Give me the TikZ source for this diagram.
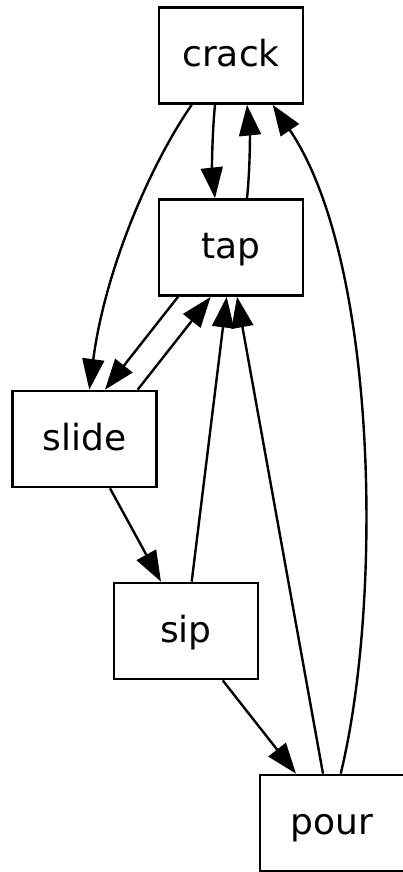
\documentclass[tikz,border=0pt]{standalone}
\usepackage{fontspec}
\setmainfont{DejaVu Sans}
\usetikzlibrary{arrows.meta,calc}
\begin{document}
\begin{tikzpicture}[x=0.375pt,y=-0.375pt,
  box/.style={draw,line width=1pt,minimum width=54pt,minimum height=36pt,inner sep=0pt,
    text height=11.8pt,text depth=3.4pt,font=\fontsize{13.5}{16}\selectfont},
  edge/.style={line width=0.9pt,-{Triangle[length=11.5pt,width=8.2pt]}}]
\useasboundingbox (0,0) rectangle (402,872);
\node[box] (crack) at (231,55.5) {crack};
\node[box] (tap) at (231,247.5) {tap};
\node[box] (slide) at (84.5,439) {slide};
\node[box] (sip) at (186,631) {sip};
\node[box] (pour) at (332,823) {pour};
\draw[edge] ($(crack.south)+(-16,0)$) .. controls (212,135) and (212,170) .. ($(tap.north)+(-16,0)$);
\draw[edge] ($(tap.north)+(16,0)$) .. controls (250,170) and (250,135) .. ($(crack.south)+(16,0)$);
\draw[edge] ($(crack.south)+(-39.3,0)$) .. controls (150,165) and (105,270) .. ($(slide.north)+(4.8,0)$);
\draw[edge] ($(tap.south)+(-53,0)$) -- ($(slide.north)+(20.5,0)$);
\draw[edge] ($(slide.north)+(53.2,0)$) -- ($(tap.south)+(-20.3,0)$);
\draw[edge] ($(sip.north)+(5.7,0)$) -- ($(tap.south)+(-4.3,0)$);
\draw[edge] ($(pour.north)+(-9,0)$) -- ($(tap.south)+(6,0)$);
\draw[edge] ($(pour.north)+(8.7,0)$) .. controls (383,600) and (378,260) .. ($(crack.south)+(41.7,0)$);
\draw[edge] ($(slide.south)+(25.5,0)$) -- ($(sip.north)+(-25,0)$);
\draw[edge] ($(sip.south)+(36.7,0)$) -- ($(pour.north)+(-36,0)$);
\end{tikzpicture}
\end{document}
